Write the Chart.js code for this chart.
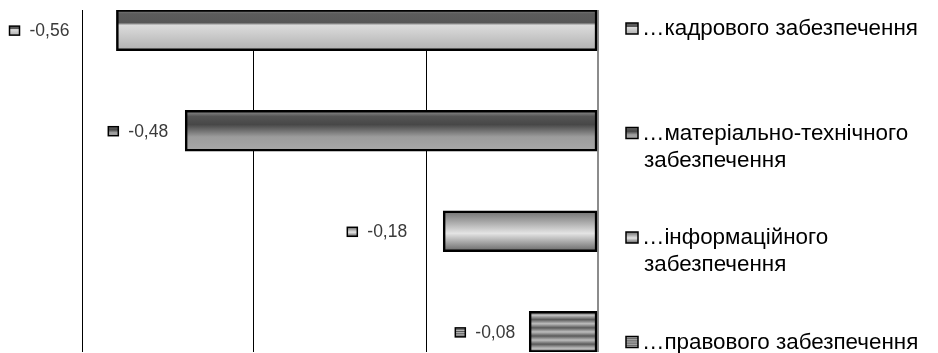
<!DOCTYPE html>
<html>
<head>
<meta charset="utf-8">
<script src="https://cdn.jsdelivr.net/npm/chart.js@4.4.1/dist/chart.umd.min.js"></script>
<style>
  html, body { margin: 0; padding: 0; background: #fff; overflow: hidden; }
  #wrap { position: relative; width: 938px; height: 353px; }
</style>
</head>
<body>
<div id="wrap"><canvas id="chart"></canvas></div>
<script>
// дані
const categories = [
    ['…кадрового забезпечення'],
    ['…матеріально-технічного', 'забезпечення'],
    ['…інформаційного', 'забезпечення'],
    ['…правового забезпечення']
];
const values = [-0.56, -0.48, -0.18, -0.08];
const xTicks = [-0.6, -0.4, -0.2, 0];

// стилі заливки (градієнти як в Excel)
const fills = [
    [[0, '#8a8a8a'], [0.1, '#5c5c5c'], [0.32, '#575757'], [0.38, '#dcdcdc'], [1, '#b0b0b0']],
    [[0, '#9a9a9a'], [0.15, '#555555'], [0.35, '#474747'], [0.65, '#9c9c9c'], [1, '#a8a8a8']],
    [[0, '#6e6e6e'], [0.55, '#e4e4e4'], [1, '#646464']],
    (function () {
        const s = [];
        for (let k = 0; k <= 10; k++) s.push([k / 10, k % 2 ? '#bdbdbd' : '#5a5a5a']);
        return s;
    })()
];
const labelGap = [47, 17, 36, 14];
const barH = 41;
const font = '"Liberation Sans", Arial, sans-serif';

function makeGradient(ctx, i, y0, y1) {
    const g = ctx.createLinearGradient(0, y0, 0, y1);
    fills[i].forEach(s => g.addColorStop(s[0], s[1]));
    return g;
}

function drawMarker(ctx, i, x, y, w, h) {
    ctx.fillStyle = makeGradient(ctx, i, y, y + h);
    ctx.fillRect(x, y, w, h);
    ctx.lineWidth = 1.5;
    ctx.strokeStyle = '#000';
    ctx.strokeRect(x, y, w, h);
}

const labelsPlugin = {
    id: 'labels',
    afterDatasetsDraw(chart) {
        const ctx = chart.ctx;
        const meta = chart.getDatasetMeta(0);
        ctx.save();
        // підписи значень
        ctx.font = '17.5px ' + font;
        ctx.textBaseline = 'middle';
        ctx.textAlign = 'right';
        meta.data.forEach((el, i) => {
            const txt = values[i].toFixed(2).replace('.', ',');
            const right = el.x - labelGap[i];
            const w = ctx.measureText(txt).width;
            ctx.fillStyle = '#3a3a3a';
            ctx.fillText(txt, right, el.y + 1);
            drawMarker(ctx, i, right - w - 20, el.y - 4, 10, 9);
        });
        // легенда справа
        ctx.font = '22.4px ' + font;
        ctx.textAlign = 'left';
        const top = 29, step = 104.5, lh = 27;
        categories.forEach((lines, i) => {
            const y = top + i * step;
            drawMarker(ctx, i, 626, y - 6, 12, 11);
            ctx.fillStyle = '#000';
            lines.forEach((ln, j) => {
                ctx.fillText(ln, j === 0 ? 642 : 644, y + j * lh);
            });
        });
        ctx.restore();
    }
};

new Chart(document.getElementById('chart'), {
    type: 'bar',
    data: {
        datasets: [{
            data: values.map((v, i) => ({ x: v, y: i })),
            barThickness: barH,
            borderColor: '#000',
            borderWidth: 2.5,
            borderSkipped: false,
            backgroundColor: function (c) {
                const chart = c.chart;
                const y = chart.scales && chart.scales.y;
                if (!y || !chart.chartArea) return '#999';
                const cy = y.getPixelForValue(c.dataIndex);
                return makeGradient(chart.ctx, c.dataIndex, cy - barH / 2, cy + barH / 2);
            }
        }]
    },
    options: {
        indexAxis: 'y',
        responsive: true,
        maintainAspectRatio: false,
        animation: false,
        layout: { padding: { left: 82, right: 340, top: 10, bottom: 1 } },
        plugins: {
            legend: { display: false },
            tooltip: { enabled: false }
        },
        scales: {
            x: {
                type: 'linear',
                min: xTicks[0],
                max: xTicks[xTicks.length - 1],
                afterBuildTicks: s => { s.ticks = xTicks.map(v => ({ value: v })); },
                ticks: { display: false },
                border: { display: false },
                grid: {
                    drawTicks: false,
                    color: c => (c.tick && Math.abs(c.tick.value) < 1e-9) ? '#8c8c8c' : '#000',
                    lineWidth: c => (c.tick && Math.abs(c.tick.value) < 1e-9) ? 2 : 1
                }
            },
            y: {
                type: 'linear',
                reverse: true,
                offset: false,
                min: -0.2,
                max: 3.2,
                display: false
            }
        }
    },
    plugins: [labelsPlugin]
});
</script>
</body>
</html>
